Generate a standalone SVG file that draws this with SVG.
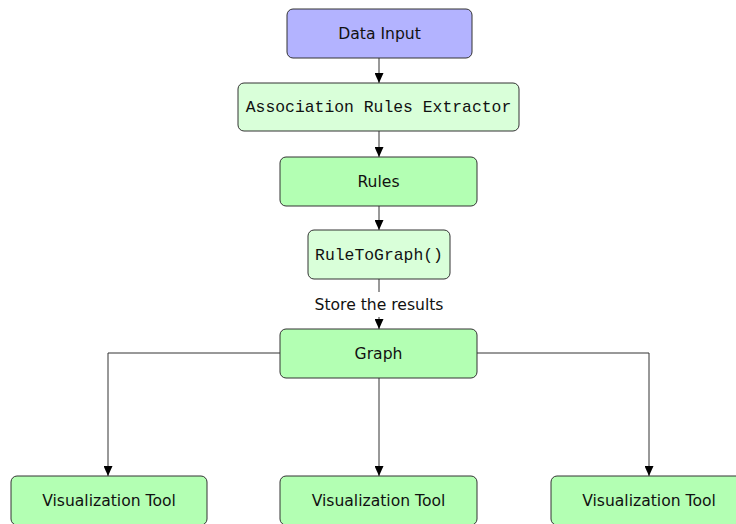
<svg xmlns="http://www.w3.org/2000/svg" width="736" height="524" viewBox="0 0 736 524">
  <style>
    .box { stroke: #333; stroke-width: 1; }
    .start { fill: #b3b3ff; }
    .proc { fill: #d9ffd9; }
    .data { fill: #b3ffb3; }
    .lbl { font-family: "DejaVu Sans", "Liberation Sans", sans-serif; font-size: 15.6px; fill: #111; text-anchor: middle; }
    .code { font-family: "Liberation Mono", "DejaVu Sans Mono", monospace; font-size: 16.4px; fill: #111; text-anchor: middle; }
    .edge { fill: none; stroke: #333; stroke-width: 1; }
  </style>
  <defs>
    <marker id="arrow" viewBox="0 0 10 10" refX="10" refY="5" markerWidth="10" markerHeight="9" markerUnits="userSpaceOnUse" orient="auto" preserveAspectRatio="none">
      <path d="M0,0 L10,5 L0,10 Z" fill="#000"/>
    </marker>
  </defs>
  <rect width="736" height="524" fill="#fff"/>

  <g id="connectors">
    <line class="edge" x1="379" y1="58" x2="379" y2="83" marker-end="url(#arrow)"/>
    <line class="edge" x1="379" y1="131" x2="379" y2="157" marker-end="url(#arrow)"/>
    <line class="edge" x1="379" y1="206" x2="379" y2="230" marker-end="url(#arrow)"/>
    <line class="edge" x1="379" y1="279" x2="379" y2="329" marker-end="url(#arrow)"/>
    <rect x="310" y="292" width="138" height="25" fill="#fff"/>
    <text class="lbl" x="379" y="310">Store the results</text>
    <path class="edge" d="M280,353 H108 V476" marker-end="url(#arrow)"/>
    <line class="edge" x1="379" y1="378" x2="379" y2="476" marker-end="url(#arrow)"/>
    <path class="edge" d="M477,353 H649 V476" marker-end="url(#arrow)"/>
  </g>

  <g id="data-input">
    <rect class="box start" x="287" y="9" width="185" height="49" rx="6"/>
    <text class="lbl" x="379.5" y="39">Data Input</text>
  </g>
  <g id="extractor">
    <rect class="box proc" x="238" y="83" width="281" height="48" rx="6"/>
    <text class="code" x="378.5" y="112">Association Rules Extractor</text>
  </g>
  <g id="rules">
    <rect class="box data" x="280" y="157" width="197" height="49" rx="6"/>
    <text class="lbl" x="378.5" y="187">Rules</text>
  </g>
  <g id="rule-to-graph">
    <rect class="box proc" x="308" y="230" width="142" height="49" rx="6"/>
    <text class="code" x="379" y="260">RuleToGraph()</text>
  </g>
  <g id="graph">
    <rect class="box data" x="280" y="329" width="197" height="49" rx="6"/>
    <text class="lbl" x="378.5" y="359">Graph</text>
  </g>
  <g id="vis-left">
    <rect class="box data" x="11" y="476" width="196" height="49" rx="6"/>
    <text class="lbl" x="109" y="506">Visualization Tool</text>
  </g>
  <g id="vis-middle">
    <rect class="box data" x="280" y="476" width="197" height="49" rx="6"/>
    <text class="lbl" x="378.5" y="506">Visualization Tool</text>
  </g>
  <g id="vis-right">
    <rect class="box data" x="551" y="476" width="196" height="49" rx="6"/>
    <text class="lbl" x="649" y="506">Visualization Tool</text>
  </g>
</svg>
